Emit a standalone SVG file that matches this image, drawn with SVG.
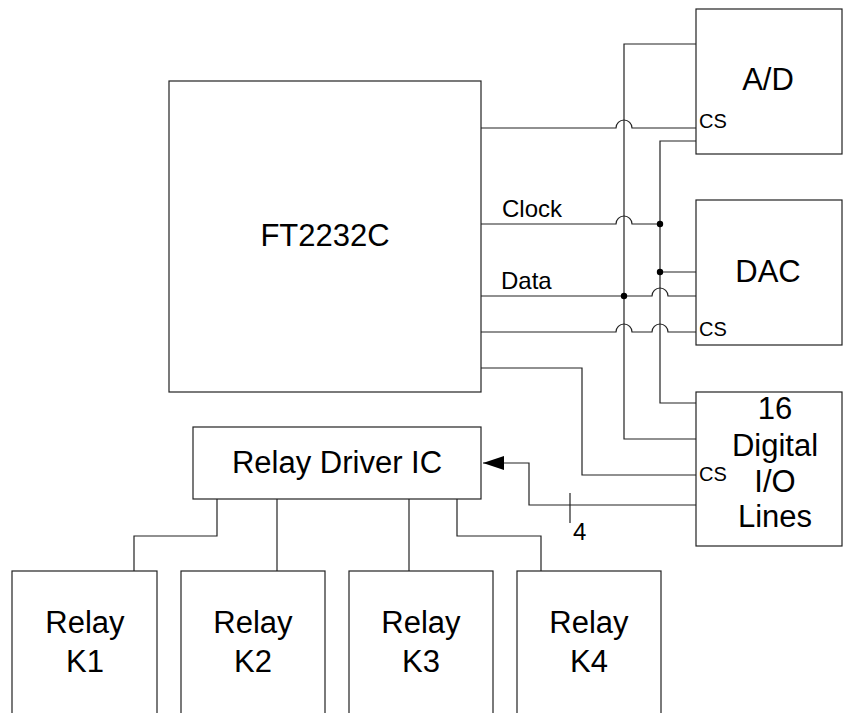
<svg xmlns="http://www.w3.org/2000/svg" width="843" height="713" viewBox="0 0 843 713">
<style>
.box{fill:#fff;stroke:#222;stroke-width:1.2}
.w{fill:none;stroke:#222;stroke-width:1.2}
.t{font-family:"Liberation Sans",Arial,sans-serif;fill:#000}
.big{font-size:31px;text-anchor:middle}
.mid{font-size:24px}
.cs{font-size:20px}
.dot{fill:#000}
</style>
<defs>
<marker id="arr" markerWidth="22" markerHeight="16" refX="21" refY="7" orient="auto" markerUnits="userSpaceOnUse">
<path d="M0,0 L21,7 L0,14 Z" fill="#000"/>
</marker>
</defs>
<rect width="843" height="713" fill="#fff"/>
<g id="connectors">
<path class="w" d="M696,44 H624 V439 H696"/>
<path class="w" d="M696,141 H660 V403 H696"/>
<path class="w" d="M660,272 H696"/>
<path class="w" d="M481,128 H616 A8,8 0 0 1 632,128 H696"/>
<path class="w" d="M481,224 H616 A8,8 0 0 1 632,224 H660"/>
<path class="w" d="M481,296 H652 A8,8 0 0 1 668,296 H696"/>
<path class="w" d="M481,332 H616 A8,8 0 0 1 632,332 H652 A8,8 0 0 1 668,332 H696"/>
<path class="w" d="M481,368 H582 V475 H696"/>
<path class="w" d="M696,505 H529 V463 H483" marker-end="url(#arr)"/>
<path class="w" d="M570,493 V523"/>
<path class="w" d="M217,499 V536 H134 V571"/>
<path class="w" d="M277,499 V571"/>
<path class="w" d="M409,499 V571"/>
<path class="w" d="M457,499 V536 H541 V571"/>
<circle class="dot" cx="660" cy="224" r="3.2"/>
<circle class="dot" cx="660" cy="272" r="3.2"/>
<circle class="dot" cx="624" cy="296" r="3.2"/>
<text class="t mid" x="502" y="217">Clock</text>
<text class="t mid" x="501" y="289">Data</text>
<text class="t" x="573" y="540" font-size="24">4</text>
</g>
<g id="ft2232c">
<rect class="box" x="169" y="81" width="312" height="311"/>
<text class="t big" x="325" y="246">FT2232C</text>
</g>
<g id="ad">
<rect class="box" x="696" y="9" width="146" height="145"/>
<text class="t big" x="768" y="90">A/D</text>
<text class="t cs" x="699" y="128">CS</text>
</g>
<g id="dac">
<rect class="box" x="696" y="200" width="146" height="145"/>
<text class="t big" x="768" y="282">DAC</text>
<text class="t cs" x="699" y="336">CS</text>
</g>
<g id="dio">
<rect class="box" x="696" y="392" width="146" height="154"/>
<text class="t big" x="775" y="419">16</text>
<text class="t big" x="775" y="456">Digital</text>
<text class="t big" x="775" y="492">I/O</text>
<text class="t big" x="775" y="527">Lines</text>
<text class="t cs" x="699" y="481">CS</text>
</g>
<g id="relay-driver">
<rect class="box" x="193" y="427" width="288" height="72"/>
<text class="t big" x="337" y="473">Relay Driver IC</text>
</g>
<g id="k1">
<rect class="box" x="12" y="571" width="145" height="160"/>
<text class="t big" x="85" y="633">Relay</text>
<text class="t big" x="85" y="672">K1</text>
</g>
<g id="k2">
<rect class="box" x="181" y="571" width="144" height="160"/>
<text class="t big" x="253" y="633">Relay</text>
<text class="t big" x="253" y="672">K2</text>
</g>
<g id="k3">
<rect class="box" x="349" y="571" width="144" height="160"/>
<text class="t big" x="421" y="633">Relay</text>
<text class="t big" x="421" y="672">K3</text>
</g>
<g id="k4">
<rect class="box" x="517" y="571" width="144" height="160"/>
<text class="t big" x="589" y="633">Relay</text>
<text class="t big" x="589" y="672">K4</text>
</g>
</svg>
